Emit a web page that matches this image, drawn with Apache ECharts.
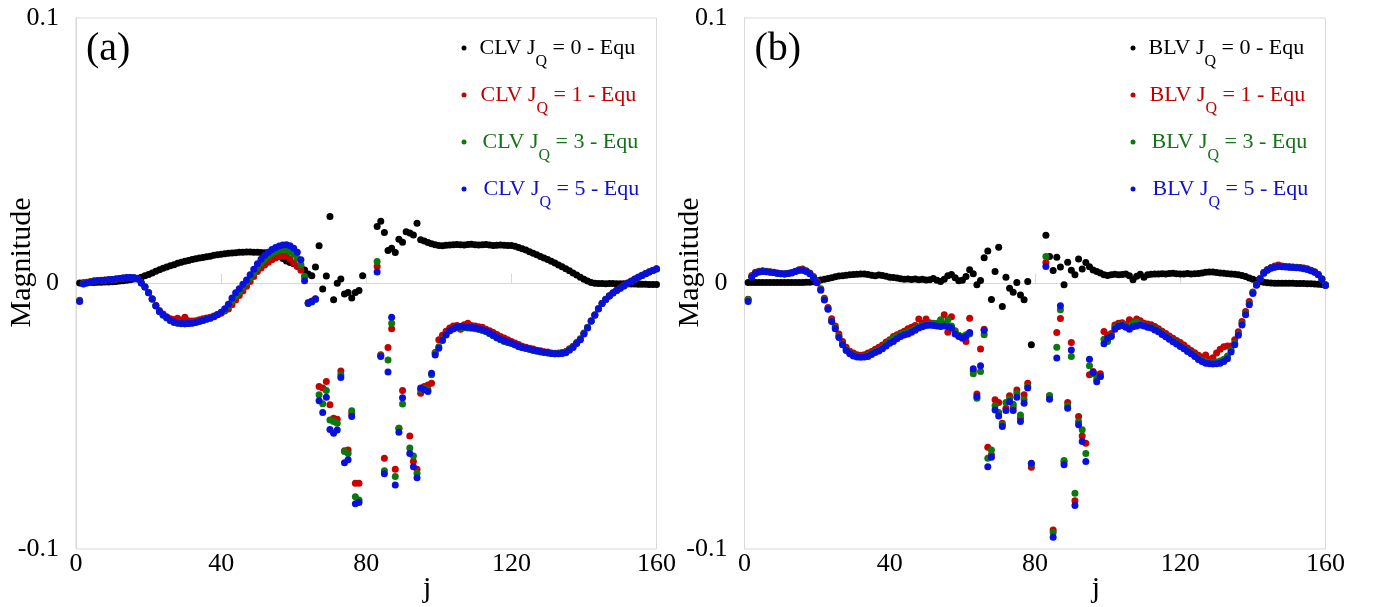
<!DOCTYPE html>
<html>
<head>
<meta charset="utf-8">
<script src="https://cdn.jsdelivr.net/npm/echarts@6/dist/echarts.min.js"></script>
<style>
  html, body { margin: 0; padding: 0; background: #ffffff; }
  #chart { width: 1383px; height: 607px; }
</style>
</head>
<body>
<div id="chart"></div>
<script>
// Magnitude per site j = 1..160 (index 0 is j = 1). null = no point drawn.

// Panel (a): CLV, J_Q = 0
const clv0 = [
  0.0002,0.0003,0.0003,0.0004,0.0004,0.0005,0.0005,0.0006,0.0006,0.0007,
  0.0008,0.0009,0.0010,0.0012,0.0014,0.0017,0.0020,0.0024,0.0029,0.0034,
  0.0040,0.0046,0.0052,0.0057,0.0062,0.0067,0.0071,0.0076,0.0080,0.0084,
  0.0087,0.0090,0.0093,0.0096,0.0098,0.0101,0.0103,0.0106,0.0108,0.0110,
  0.0112,0.0114,0.0115,0.0116,0.0118,0.0118,0.0119,0.0119,0.0118,0.0118,
  0.0117,0.0116,0.0114,0.0112,0.0108,0.0102,0.0094,0.0085,0.0079,0.0074,
  0.0066,0.0060,0.0051,0.0036,0.0029,0.0062,0.0142,-0.0021,0.0028,0.0252,
  -0.0061,0.0001,0.0017,-0.0040,-0.0034,-0.0055,-0.0034,-0.0026,0.0029,null,
  null,null,0.0215,0.0234,0.0192,0.0124,0.0133,0.0117,0.0167,0.0155,
  0.0195,0.0190,0.0183,0.0227,0.0165,0.0160,0.0154,0.0150,0.0146,0.0143,
  0.0142,0.0144,0.0145,0.0146,0.0147,0.0146,0.0145,0.0147,0.0148,0.0146,
  0.0145,0.0146,0.0147,0.0145,0.0143,0.0144,0.0145,0.0144,0.0143,0.0143,
  0.0140,0.0136,0.0131,0.0126,0.0120,0.0114,0.0108,0.0102,0.0096,0.0090,
  0.0084,0.0077,0.0070,0.0063,0.0056,0.0048,0.0040,0.0032,0.0024,0.0016,
  0.0009,0.0004,0.0001,0.0000,0.0000,-0.0001,0.0000,0.0000,-0.0001,-0.0001,
  -0.0001,-0.0002,-0.0002,-0.0002,-0.0003,-0.0003,-0.0003,-0.0004,-0.0004,-0.0004
];

// Panel (a): CLV, J_Q = 1
const clv1 = [
  -0.0063,0.0001,0.0005,0.0008,0.0010,0.0011,0.0012,0.0013,0.0014,0.0015,
  0.0016,0.0018,0.0020,0.0022,0.0022,0.0021,0.0017,0.0003,-0.0012,-0.0034,
  -0.0057,-0.0082,-0.0102,-0.0115,-0.0125,-0.0133,-0.0136,-0.0131,-0.0138,-0.0127,
  -0.0140,-0.0141,-0.0140,-0.0137,-0.0133,-0.0130,-0.0127,-0.0122,-0.0118,-0.0112,
  -0.0104,-0.0096,-0.0080,-0.0062,-0.0045,-0.0028,-0.0010,0.0008,0.0026,0.0045,
  0.0058,0.0070,0.0080,0.0089,0.0096,0.0102,0.0103,0.0104,0.0092,0.0077,
  0.0064,0.0050,0.0026,-0.0072,-0.0066,-0.0057,-0.0388,-0.0394,-0.0369,-0.0457,
  -0.0508,-0.0511,-0.0330,-0.0630,-0.0627,-0.0490,-0.0752,-0.0752,null,null,
  null,null,0.0064,-0.0268,-0.0658,-0.0241,-0.0170,-0.0700,-0.0545,-0.0403,
  null,-0.0574,-0.0670,-0.0700,-0.0413,-0.0388,-0.0382,-0.0376,-0.0260,-0.0212,
  -0.0195,-0.0180,-0.0168,-0.0160,-0.0158,-0.0172,-0.0155,-0.0150,-0.0158,-0.0160,
  -0.0163,-0.0165,-0.0172,-0.0178,-0.0185,-0.0192,-0.0200,-0.0205,-0.0212,-0.0218,
  -0.0224,-0.0230,-0.0236,-0.0240,-0.0244,-0.0247,-0.0251,-0.0253,-0.0257,-0.0258,
  -0.0262,-0.0263,-0.0262,-0.0260,-0.0256,-0.0246,-0.0236,-0.0222,-0.0208,-0.0186,
  -0.0165,-0.0140,-0.0118,-0.0094,-0.0074,-0.0059,-0.0046,-0.0035,-0.0025,-0.0017,
  -0.0008,0.0002,0.0009,0.0017,0.0024,0.0031,0.0038,0.0044,0.0050,0.0056
];

// Panel (a): CLV, J_Q = 3
const clv3 = [
  -0.0065,-0.0001,0.0003,0.0006,0.0009,0.0010,0.0011,0.0012,0.0014,0.0015,
  0.0017,0.0019,0.0021,0.0022,0.0023,0.0022,0.0017,0.0002,-0.0013,-0.0035,
  -0.0059,-0.0085,-0.0106,-0.0120,-0.0130,-0.0140,-0.0147,-0.0150,-0.0152,-0.0152,
  -0.0151,-0.0149,-0.0146,-0.0142,-0.0138,-0.0134,-0.0130,-0.0124,-0.0118,-0.0110,
  -0.0099,-0.0085,-0.0066,-0.0047,-0.0031,-0.0014,0.0003,0.0021,0.0040,0.0060,
  0.0076,0.0090,0.0102,0.0112,0.0120,0.0125,0.0128,0.0127,0.0120,0.0110,
  0.0095,0.0070,0.0026,-0.0075,-0.0070,-0.0060,-0.0419,-0.0453,-0.0403,-0.0514,
  -0.0520,-0.0526,-0.0344,-0.0633,-0.0640,-0.0479,-0.0803,-0.0815,null,null,
  null,null,0.0083,-0.0272,-0.0705,-0.0288,-0.0150,-0.0727,-0.0545,-0.0454,
  null,-0.0620,-0.0650,-0.0715,-0.0400,-0.0395,-0.0400,-0.0344,-0.0263,-0.0238,
  -0.0212,-0.0192,-0.0178,-0.0171,-0.0167,-0.0166,-0.0167,-0.0168,-0.0169,-0.0170,
  -0.0173,-0.0177,-0.0182,-0.0189,-0.0197,-0.0205,-0.0212,-0.0218,-0.0222,-0.0226,
  -0.0232,-0.0238,-0.0242,-0.0245,-0.0249,-0.0252,-0.0255,-0.0258,-0.0260,-0.0262,
  -0.0264,-0.0265,-0.0264,-0.0262,-0.0258,-0.0249,-0.0238,-0.0224,-0.0210,-0.0188,
  -0.0166,-0.0141,-0.0119,-0.0095,-0.0075,-0.0060,-0.0047,-0.0036,-0.0026,-0.0018,
  -0.0009,0.0001,0.0008,0.0016,0.0024,0.0030,0.0037,0.0043,0.0049,0.0055
];

// Panel (a): CLV, J_Q = 5
const clv5 = [
  -0.0068,-0.0002,0.0002,0.0005,0.0008,0.0010,0.0011,0.0012,0.0014,0.0015,
  0.0017,0.0019,0.0021,0.0023,0.0023,0.0022,0.0018,0.0002,-0.0013,-0.0035,
  -0.0058,-0.0084,-0.0105,-0.0118,-0.0128,-0.0138,-0.0145,-0.0149,-0.0151,-0.0152,
  -0.0151,-0.0150,-0.0147,-0.0143,-0.0139,-0.0135,-0.0131,-0.0125,-0.0117,-0.0108,
  -0.0095,-0.0078,-0.0055,-0.0035,-0.0020,-0.0003,0.0013,0.0033,0.0054,0.0074,
  0.0091,0.0106,0.0118,0.0128,0.0136,0.0141,0.0145,0.0146,0.0142,0.0133,
  0.0118,0.0089,0.0010,-0.0074,-0.0068,-0.0058,-0.0442,-0.0486,-0.0428,-0.0550,
  -0.0564,-0.0552,-0.0354,-0.0675,-0.0664,-0.0501,-0.0830,-0.0825,null,null,
  null,null,0.0043,-0.0275,-0.0717,-0.0333,-0.0127,-0.0759,-0.0560,-0.0430,
  null,-0.0640,-0.0690,-0.0732,-0.0394,-0.0400,-0.0407,-0.0338,-0.0269,-0.0244,
  -0.0215,-0.0194,-0.0178,-0.0170,-0.0165,-0.0162,-0.0163,-0.0165,-0.0166,-0.0167,
  -0.0170,-0.0174,-0.0179,-0.0186,-0.0195,-0.0203,-0.0210,-0.0216,-0.0220,-0.0224,
  -0.0230,-0.0236,-0.0241,-0.0244,-0.0247,-0.0250,-0.0253,-0.0256,-0.0259,-0.0261,
  -0.0264,-0.0265,-0.0265,-0.0264,-0.0261,-0.0251,-0.0241,-0.0226,-0.0212,-0.0190,
  -0.0168,-0.0142,-0.0120,-0.0096,-0.0075,-0.0060,-0.0047,-0.0036,-0.0026,-0.0018,
  -0.0009,0.0001,0.0008,0.0016,0.0024,0.0030,0.0037,0.0043,0.0049,0.0055
];

// Panel (b): BLV, J_Q = 0
const blv0 = [
  0.0004,0.0004,0.0004,0.0004,0.0004,0.0004,0.0004,0.0004,0.0004,0.0004,
  0.0004,0.0004,0.0004,0.0004,0.0004,0.0004,0.0005,0.0005,0.0007,0.0010,
  0.0013,0.0016,0.0019,0.0022,0.0025,0.0028,0.0029,0.0031,0.0033,0.0034,
  0.0035,0.0036,0.0036,0.0034,0.0031,0.0029,0.0032,0.0030,0.0027,0.0024,
  0.0023,0.0021,0.0018,0.0016,0.0017,0.0015,0.0017,0.0014,0.0016,0.0013,
  0.0014,0.0019,0.0012,0.0008,0.0016,0.0029,0.0034,0.0022,0.0010,0.0012,
  0.0026,0.0052,0.0037,-0.0005,0.0011,0.0097,0.0122,-0.0060,0.0045,0.0137,
  -0.0087,0.0024,-0.0018,-0.0033,0.0004,-0.0043,-0.0061,0.0008,-0.0231,null,
  null,null,0.0182,0.0102,0.0049,0.0099,0.0062,-0.0005,0.0080,0.0050,
  0.0033,0.0092,0.0055,0.0079,0.0063,0.0051,0.0045,0.0040,0.0033,0.0030,
  0.0033,0.0035,0.0033,0.0034,0.0036,0.0029,0.0014,0.0027,0.0035,0.0024,
  0.0033,0.0035,0.0036,0.0036,0.0037,0.0036,0.0038,0.0039,0.0037,0.0036,
  0.0036,0.0038,0.0036,0.0037,0.0038,0.0040,0.0042,0.0043,0.0043,0.0041,
  0.0040,0.0039,0.0037,0.0036,0.0035,0.0033,0.0030,0.0026,0.0021,0.0016,
  0.0011,0.0007,0.0005,0.0003,0.0002,0.0001,0.0001,0.0001,0.0001,0.0001,
  0.0001,0.0000,0.0000,0.0000,-0.0001,-0.0001,-0.0002,-0.0003,-0.0004,-0.0005
];

// Panel (b): BLV, J_Q = 1
const blv1 = [
  -0.0059,0.0030,0.0042,0.0046,0.0048,0.0046,0.0044,0.0042,0.0040,0.0038,
  0.0037,0.0039,0.0041,0.0046,0.0052,0.0055,0.0048,0.0040,0.0026,0.0008,
  -0.0020,-0.0056,-0.0090,-0.0133,-0.0160,-0.0190,-0.0218,-0.0240,-0.0255,-0.0262,
  -0.0268,-0.0270,-0.0268,-0.0262,-0.0256,-0.0248,-0.0240,-0.0232,-0.0220,-0.0212,
  -0.0200,-0.0193,-0.0186,-0.0180,-0.0170,-0.0165,-0.0158,-0.0134,-0.0150,-0.0134,
  -0.0148,-0.0150,-0.0152,-0.0150,-0.0118,-0.0184,-0.0125,-0.0178,-0.0196,-0.0200,
  -0.0218,-0.0131,-0.0330,-0.0416,-0.0247,-0.0172,-0.0617,-0.0645,-0.0438,-0.0448,
  -0.0526,-0.0470,-0.0423,-0.0465,-0.0401,-0.0508,-0.0419,-0.0376,-0.0692,null,
  null,null,0.0079,-0.0425,-0.0928,-0.0185,-0.0132,-0.0672,-0.0448,-0.0222,
  -0.0818,-0.0501,-0.0574,-0.0602,-0.0344,-0.0331,-0.0345,-0.0340,-0.0181,-0.0195,
  -0.0188,-0.0156,-0.0150,-0.0148,-0.0155,-0.0137,-0.0145,-0.0134,-0.0140,-0.0150,
  -0.0153,-0.0155,-0.0162,-0.0170,-0.0180,-0.0188,-0.0198,-0.0206,-0.0215,-0.0222,
  -0.0232,-0.0243,-0.0252,-0.0261,-0.0270,-0.0278,-0.0269,-0.0286,-0.0280,-0.0262,
  -0.0248,-0.0238,-0.0235,-0.0235,-0.0212,-0.0182,-0.0143,-0.0105,-0.0068,-0.0032,
  -0.0005,0.0020,0.0042,0.0053,0.0060,0.0066,0.0070,0.0066,0.0064,0.0063,
  0.0062,0.0061,0.0060,0.0058,0.0056,0.0050,0.0044,0.0035,0.0018,-0.0006
];

// Panel (b): BLV, J_Q = 3
const blv3 = [
  -0.0060,0.0026,0.0039,0.0044,0.0046,0.0045,0.0043,0.0041,0.0039,0.0037,
  0.0036,0.0038,0.0041,0.0045,0.0050,0.0051,0.0046,0.0038,0.0023,0.0004,
  -0.0023,-0.0060,-0.0095,-0.0140,-0.0167,-0.0199,-0.0228,-0.0249,-0.0262,-0.0270,
  -0.0274,-0.0275,-0.0274,-0.0271,-0.0264,-0.0256,-0.0250,-0.0242,-0.0229,-0.0216,
  -0.0206,-0.0200,-0.0193,-0.0188,-0.0183,-0.0177,-0.0170,-0.0163,-0.0159,-0.0155,
  -0.0153,-0.0152,-0.0150,-0.0137,-0.0152,-0.0137,-0.0160,-0.0181,-0.0195,-0.0203,
  -0.0193,-0.0190,-0.0340,-0.0432,-0.0331,-0.0193,-0.0658,-0.0627,-0.0460,-0.0486,
  -0.0532,-0.0448,-0.0435,-0.0455,-0.0413,-0.0495,-0.0438,-0.0388,-0.0680,null,
  null,null,0.0102,-0.0422,-0.0938,-0.0240,-0.0099,-0.0667,-0.0460,-0.0275,
  -0.0790,-0.0520,-0.0551,-0.0640,-0.0310,-0.0340,-0.0360,-0.0350,-0.0210,-0.0218,
  -0.0198,-0.0165,-0.0158,-0.0154,-0.0160,-0.0165,-0.0150,-0.0145,-0.0152,-0.0158,
  -0.0163,-0.0166,-0.0172,-0.0179,-0.0189,-0.0198,-0.0207,-0.0216,-0.0225,-0.0234,
  -0.0243,-0.0253,-0.0262,-0.0272,-0.0283,-0.0290,-0.0296,-0.0298,-0.0298,-0.0296,
  -0.0292,-0.0285,-0.0273,-0.0250,-0.0225,-0.0190,-0.0152,-0.0114,-0.0076,-0.0035,
  -0.0005,0.0018,0.0040,0.0051,0.0058,0.0062,0.0065,0.0064,0.0063,0.0062,
  0.0061,0.0060,0.0059,0.0057,0.0054,0.0049,0.0043,0.0034,0.0017,-0.0007
];

// Panel (b): BLV, J_Q = 5
const blv5 = [
  -0.0068,0.0024,0.0038,0.0043,0.0045,0.0044,0.0042,0.0041,0.0039,0.0037,
  0.0036,0.0038,0.0040,0.0045,0.0050,0.0050,0.0045,0.0037,0.0022,0.0003,
  -0.0025,-0.0062,-0.0097,-0.0143,-0.0170,-0.0203,-0.0231,-0.0252,-0.0265,-0.0273,
  -0.0277,-0.0278,-0.0277,-0.0275,-0.0267,-0.0260,-0.0254,-0.0246,-0.0235,-0.0225,
  -0.0218,-0.0208,-0.0200,-0.0194,-0.0190,-0.0184,-0.0176,-0.0168,-0.0163,-0.0158,
  -0.0157,-0.0158,-0.0160,-0.0162,-0.0160,-0.0162,-0.0168,-0.0190,-0.0200,-0.0206,
  -0.0200,-0.0185,-0.0321,-0.0426,-0.0310,-0.0177,-0.0690,-0.0654,-0.0476,-0.0499,
  -0.0539,-0.0478,-0.0445,-0.0478,-0.0428,-0.0520,-0.0451,-0.0394,-0.0677,null,
  null,null,0.0064,-0.0436,-0.0956,-0.0281,-0.0084,-0.0683,-0.0470,-0.0250,
  -0.0836,-0.0532,-0.0595,-0.0670,-0.0285,-0.0335,-0.0370,-0.0350,-0.0227,-0.0206,
  -0.0200,-0.0172,-0.0162,-0.0158,-0.0165,-0.0172,-0.0163,-0.0160,-0.0156,-0.0160,
  -0.0165,-0.0168,-0.0175,-0.0182,-0.0192,-0.0201,-0.0210,-0.0219,-0.0228,-0.0237,
  -0.0246,-0.0256,-0.0265,-0.0275,-0.0286,-0.0294,-0.0300,-0.0302,-0.0303,-0.0302,
  -0.0300,-0.0294,-0.0283,-0.0258,-0.0231,-0.0195,-0.0156,-0.0118,-0.0080,-0.0038,
  -0.0007,0.0017,0.0039,0.0050,0.0057,0.0061,0.0064,0.0063,0.0062,0.0061,
  0.0060,0.0059,0.0058,0.0056,0.0053,0.0048,0.0042,0.0033,0.0016,-0.0008
];

const jqLevels = ['0', '1', '3', '5'];
const panelLabels = ['(a)', '(b)'];
const vectorNames = ['CLV', 'BLV'];
const panelData = [[clv0, clv1, clv3, clv5], [blv0, blv1, blv3, blv5]];

const FONT = '"Liberation Serif", "Times New Roman", serif';
const markColors = ['#000000', '#c80000', '#0b7a0b', '#0a10dc'];
const textColors = ['#000000', '#c00000', '#17701a', '#1010d0'];
const legendSpacers = [8, 9, 11, 12];

function toPoints(values) {
  const pts = [];
  values.forEach((v, i) => { if (v !== null) pts.push([i + 1, v]); });
  return pts;
}

const seriesName = (p, k) => `${vectorNames[p]} J_Q = ${jqLevels[k]} - Equ`;

const gridBoxes = [
  { left: 76, top: 18, width: 580.5, height: 531 },
  { left: 744.5, top: 18, width: 581, height: 531 }
];

const grid = [], xAxis = [], yAxis = [], series = [], legend = [], title = [];

gridBoxes.forEach((box, p) => {
  grid.push(Object.assign({
    show: true, borderColor: '#d9d9d9', borderWidth: 1,
    containLabel: false, outerBoundsMode: 'none'
  }, box));

  xAxis.push({
    gridIndex: p, type: 'value', min: 0, max: 160, interval: 40,
    axisLine: { show: true, lineStyle: { color: '#d9d9d9', width: 1 } },
    axisTick: { show: true, inside: true, length: 10, lineStyle: { color: '#d9d9d9' } },
    splitLine: { show: false },
    axisLabel: { fontFamily: FONT, fontSize: 26, color: '#000', margin: 2 },
    name: 'j', nameLocation: 'middle', nameGap: 25, nameMoveOverlap: false,
    nameTextStyle: { fontFamily: FONT, fontSize: 30, color: '#000', padding: [0, 0, 0, 122] }
  });

  yAxis.push({
    gridIndex: p, type: 'value', min: -0.1, max: 0.1, interval: 0.1,
    axisLine: { show: true, lineStyle: { color: '#d9d9d9', width: 1 } },
    axisTick: { show: false },
    splitLine: { show: false },
    axisLabel: {
      fontFamily: FONT, fontSize: 26, color: '#000', margin: 17, padding: [0, 0, 10, 0],
      formatter: v => String(Math.round(v * 10) / 10)
    },
    name: 'Magnitude', nameLocation: 'middle', nameRotate: 90, nameGap: 39, nameMoveOverlap: false,
    nameTextStyle: { fontFamily: FONT, fontSize: 30, color: '#000', padding: [0, 0, 0, 42] }
  });

  title.push({
    text: panelLabels[p], left: box.left + 5, top: 24,
    textStyle: { fontFamily: FONT, fontSize: 40, fontWeight: 'normal', color: '#000' }
  });

  // main text sits mid-line; the subscript Q drops to the bottom of a taller line box
  const rich = {
    t: { fontFamily: FONT, fontSize: 22, lineHeight: 22, verticalAlign: 'middle' },
    q: { fontFamily: FONT, fontSize: 16, lineHeight: 16, verticalAlign: 'bottom' }
  };
  legendSpacers.forEach(w => {
    rich['sp' + w] = { width: w, fontSize: 12, lineHeight: 44, verticalAlign: 'middle' };
  });

  legend.push({
    orient: 'vertical',
    left: box.left + box.width - 195,
    top: 37,
    padding: 0,
    itemGap: 14,
    itemWidth: 5,
    itemHeight: 5,
    icon: 'circle',
    selectedMode: false,
    data: jqLevels.map((lvl, k) => ({ name: seriesName(p, k), textStyle: { color: textColors[k] } })),
    formatter: name => {
      const k = jqLevels.indexOf(name.match(/= (\d)/)[1]);
      const head = name.split(' J_Q')[0];
      const tail = name.split('J_Q')[1];
      return `{sp${legendSpacers[k]}| }{t|${head} J}{q|Q}{t|${tail}}`;
    },
    textStyle: { fontFamily: FONT, fontSize: 22, rich: rich }
  });

  panelData[p].forEach((values, k) => {
    series.push({
      name: seriesName(p, k),
      type: 'scatter',
      xAxisIndex: p, yAxisIndex: p,
      symbol: 'circle',
      symbolSize: 7,
      itemStyle: { color: markColors[k], opacity: 1 },
      emphasis: { disabled: true },
      data: toPoints(values)
    });
  });
});

const chart = echarts.init(document.getElementById('chart'), null, { renderer: 'canvas' });
chart.setOption({
  animation: false,
  backgroundColor: '#ffffff',
  title: title,
  legend: legend,
  grid: grid,
  xAxis: xAxis,
  yAxis: yAxis,
  series: series
});
</script>
</body>
</html>
